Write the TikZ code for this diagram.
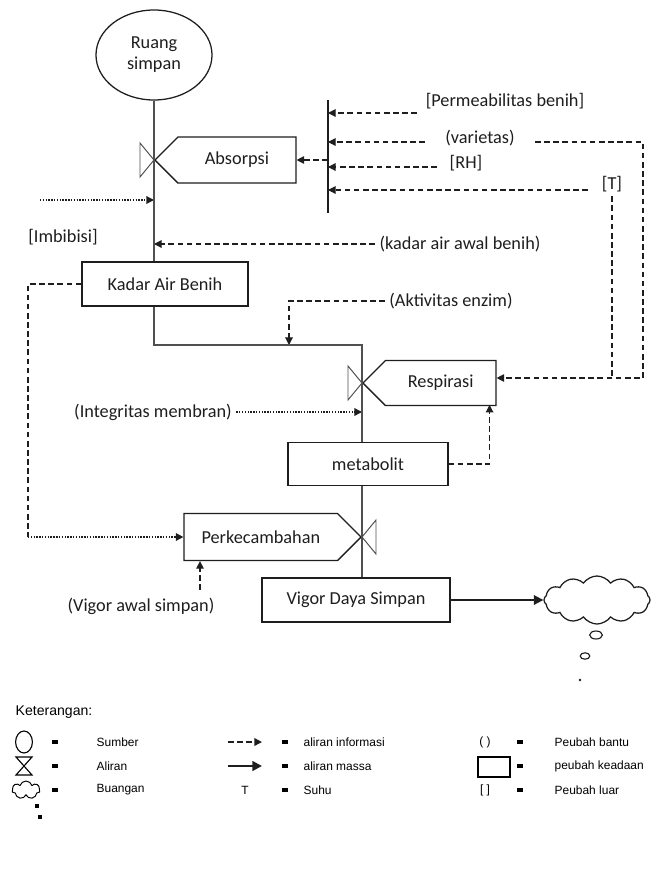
\documentclass[tikz,border=0pt]{standalone}
\usepackage{fontspec}
\setmainfont{Carlito}
\newfontfamily\legendfont{Liberation Sans}
\usetikzlibrary{arrows.meta, positioning, shapes.geometric, shapes.symbols, calc}
\definecolor{VGink}{HTML}{1E1E1E}
\definecolor{VGflow}{HTML}{505050}
\tikzset{
  vgbox/.style={rectangle, draw=VGink, line width=0.9pt, fill=white, text=VGink,
    inner sep=2pt, font=\fontsize{13}{15}\selectfont},
  vgsig/.style={vgbox, shape=signal, signal pointer angle=90},
  vglbl/.style={text=VGink, inner sep=3pt, font=\fontsize{13}{15}\selectfont},
  vgflow/.style={line width=1pt, draw=VGflow},
  vgvalve/.style={line width=0.7pt, draw=VGflow, fill=white},
  vginfo/.style={-{Triangle[length=1.9mm,width=1.9mm]}, line width=0.8pt, draw=VGink,
    dash pattern=on 4pt off 2.5pt},
  vgdash/.style={line width=0.8pt, draw=VGink, dash pattern=on 4pt off 2.5pt},
  vgdot/.style={-{Triangle[length=1.9mm,width=1.9mm]}, line width=1pt, draw=VGink,
    dash pattern=on 1pt off 1pt},
  vgmass/.style={-{Triangle[length=2.4mm,width=2.4mm]}, line width=1.3pt, draw=VGink},
  vgkey/.style={text=black, inner sep=1pt, font=\legendfont\fontsize{8.5}{10}\selectfont},
  vgbullet/.style={fill=black, minimum width=4.5pt, minimum height=3pt, inner sep=0pt},
}

\begin{document}
\begin{tikzpicture}[x=0.025cm, y=-0.025cm]
  \useasboundingbox (0,0) rectangle (655,869);
  \node[vgbox, ellipse, minimum width=2.9cm, minimum height=2.25cm, align=center] (ruang) at (154,55) {Ruang\\simpan};
  \node[vgsig, signal to=west, anchor=west, minimum width=3.525cm, minimum height=1.15cm] (absorp) at (154,160) {Absorpsi};
  \node[vgbox, minimum width=4.15cm, minimum height=1.1cm] (kab) at (165,284) {Kadar Air Benih};
  \node[vgsig, signal to=west, anchor=west, minimum width=3.325cm, minimum height=1.125cm] (resp) at (362,383) {Respirasi};
  \node[vgbox, minimum width=4cm, minimum height=1.08cm] (meta) at (368,464) {metabolit};
  \node[vgsig, signal to=east, anchor=east, minimum width=4.425cm, minimum height=1.175cm] (perk) at (362,537) {Perkecambahan};
  \node[vgbox, minimum width=4.7cm, minimum height=1.1cm] (vigor) at (356,600) {Vigor Daya Simpan};
  \node[cloud, draw=VGink, line width=0.9pt, cloud puffs=12, cloud puff arc=110, aspect=2.3, minimum width=2.65cm, minimum height=1.2cm] (buang) at (597,600) {};
  \node[ellipse, draw=VGink, line width=0.8pt, minimum width=0.32cm, minimum height=0.2cm, inner sep=0pt] (bub1) at (596,635) {};
  \node[ellipse, draw=VGink, line width=0.8pt, minimum width=0.24cm, minimum height=0.16cm, inner sep=0pt] (bub2) at (585,656) {};
  \node[circle, fill=VGink, minimum size=2pt, inner sep=0pt] (bub3) at (580,680) {};

  \node[vglbl] (perm) at (505,101) {[Permeabilitas benih]};
  \node[vglbl] (vari) at (480,138) {(varietas)};
  \node[vglbl] (rh) at (466,163) {[RH]};
  \node[vglbl] (suhu) at (612,184) {[T]};
  \node[vglbl] (imb) at (63,237) {[Imbibisi]};
  \node[vglbl] (kaab) at (460,244) {(kadar air awal benih)};
  \node[vglbl] (akt) at (451,301) {(Aktivitas enzim)};
  \node[vglbl] (integ) at (153,412) {(Integritas membran)};
  \node[vglbl] (vas) at (141,606) {(Vigor awal simpan)};

  \coordinate (bartop) at (328,100);
  \coordinate (barbot) at (328,213);
  \coordinate (permend) at (417,113);
  \coordinate (variend) at (425,142);
  \coordinate (varigap) at (535,142);
  \coordinate (rhend) at (437,167);
  \coordinate (suhuend) at (588,190);
  \coordinate (tjoin) at (643,378);
  \coordinate (imbstart) at (40,200);
  \coordinate (bend) at (154,345);
  \coordinate (aktdrop) at (289,345);
  \coordinate (lcorner) at (28,537);
  \coordinate (vasup) at (200,590);

  \draw[line width=1.2pt, draw=VGink] (bartop) -- (barbot);
  \draw[vginfo] (permend) -- (permend -| bartop);
  \draw[vginfo] (variend) -- (variend -| bartop);
  \draw[vginfo] (rhend) -- (rhend -| bartop);
  \draw[vginfo] (suhuend) -- (suhuend -| bartop);
  \draw[vginfo] (absorp.east -| bartop) -- (absorp.east);
  \draw[vginfo] (varigap) -| (tjoin) -- (tjoin -| resp.east);
  \draw[vgdash] (suhu.south) -- (suhu.south |- tjoin);
  \draw[vgdot] (imbstart) -- (imbstart -| ruang.south);
  \draw[vginfo] (kaab.west) -- (kaab.west -| ruang.south);
  \draw[vginfo] (akt.west) -| (aktdrop);
  \draw[vgdot] (integ.east) -- (integ.east -| resp.west);
  \draw[vginfo] (meta.east) -| ([xshift=-0.175cm]resp.south east);
  \draw[vgdash] (kab.west) -| (lcorner);
  \draw[vgdot] (lcorner) -- (perk.west);
  \draw[vginfo] (vasup) -- (vasup |- perk.south);

  \draw[vgflow] (ruang.south) -- (kab.north -| ruang.south);
  \draw[vgflow] (kab.south -| bend) -- (bend) -| (resp.west |- meta.north);
  \draw[vgflow] (resp.west |- meta.south) -- (resp.west |- vigor.north);
  \draw[vgvalve] (absorp.west) -- ++(-14,-17) -- ++(0,34) -- cycle;
  \draw[vgvalve] (resp.west) -- ++(-14,-17) -- ++(0,34) -- cycle;
  \draw[vgvalve] (perk.east) -- ++(14,-17) -- ++(0,34) -- cycle;
  \draw[vgmass] (vigor.east) -- (buang.west);

  \node[vgkey, anchor=west, font=\legendfont\fontsize{10}{12}\selectfont] (ket) at (14,712) {Keterangan:};
  \node[ellipse, draw=black, line width=0.8pt, minimum width=0.42cm, minimum height=0.55cm, inner sep=0pt] (ksrc) at (24,742) {};
  \coordinate (kflow) at (24,766);
  \draw[line width=0.8pt] ($(kflow)+(-8,-9)$) -- ++(16,0) -- ++(-16,18) -- ++(16,0) -- cycle;
  \node[cloud, draw=black, line width=0.7pt, cloud puffs=7, aspect=1.6, minimum width=0.7cm, minimum height=0.45cm, inner sep=0pt] (ksink) at (26,790) {};
  \node[fill=black, minimum size=2.5pt, inner sep=0pt] (kdot1) at (37,806) {};
  \node[fill=black, minimum size=2.5pt, inner sep=0pt] (kdot2) at (40,817) {};
  \coordinate (kinfoa) at (228,742);
  \coordinate (kinfob) at (262,742);
  \coordinate (kmassa) at (228,766);
  \coordinate (kmassb) at (262,766);
  \draw[vginfo, line width=1pt] (kinfoa) -- (kinfob);
  \draw[vgmass, line width=1.8pt] (kmassa) -- (kmassb);
  \node[vgkey] (ksuhu) at (245,790) {T};
  \node[vgkey] (kbantu) at (485,742) {( )};
  \node[draw=black, line width=1pt, minimum width=0.8cm, minimum height=0.5cm, inner sep=0pt] (kstate) at (494,767) {};
  \node[vgkey] (kluar) at (485,790) {[ ]};
  \foreach \yy/\txt in {742/Sumber, 766/Aliran, 790/Buangan} {
    \node[vgbullet] (ka\yy) at (55,\yy) {};
    \node[vgkey, anchor=west] (kb\yy) at (95,\yy) {\txt};
  }
  \foreach \yy/\txt in {742/aliran informasi, 766/aliran massa, 790/Suhu} {
    \node[vgbullet] (kc\yy) at (285,\yy) {};
    \node[vgkey, anchor=west] (kd\yy) at (302,\yy) {\txt};
  }
  \foreach \yy/\txt in {742/Peubah bantu, 766/peubah keadaan, 790/Peubah luar} {
    \node[vgbullet] (ke\yy) at (520,\yy) {};
    \node[vgkey, anchor=west] (kf\yy) at (553,\yy) {\txt};
  }
\end{tikzpicture}
\end{document}
